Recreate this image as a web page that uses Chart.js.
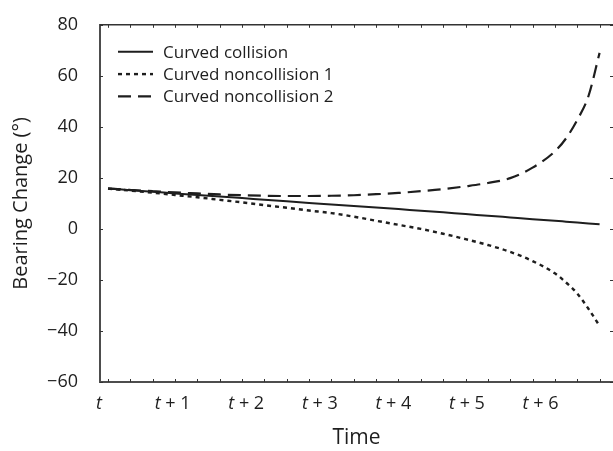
<!DOCTYPE html>
<html lang="en">
<head>
    <meta charset="UTF-8">
    <title>Bearing Change</title>
    <script src="https://cdn.jsdelivr.net/npm/chart.js"></script>
    <style>
        html, body { margin: 0; padding: 0; background: #fff; }
    </style>
</head>
<body>
    <canvas id="bearingChart" width="613" height="451"></canvas>
    <script>
        // one step = one minor tick on the time axis
        const steps = [0, 1, 2, 3, 4, 5, 6, 7, 8, 9, 10, 11, 12, 13, 14, 15, 16, 17, 18, 19, 20, 20.5, 21, 21.5, 22];
        const curvedCollision = [15.8, 15.2, 14.6, 13.9, 13.3, 12.7, 12.1, 11.4, 10.8, 10.2, 9.6, 9.0, 8.4, 7.8, 7.1, 6.5, 5.8, 5.2, 4.5, 3.8, 3.2, 2.85, 2.5, 2.15, 1.8];
        const curvedNoncollision1 = [15.8, 15.0, 14.2, 13.3, 12.4, 11.4, 10.4, 9.3, 8.3, 7.2, 6.2, 4.8, 3.2, 1.6, 0.0, -1.9, -4.0, -6.3, -9.0, -12.6, -17.4, -21.0, -25.3, -31.3, -38.0];
        const curvedNoncollision2 = [15.8, 15.3, 14.8, 14.3, 13.9, 13.5, 13.2, 13.0, 12.9, 12.9, 13.0, 13.2, 13.6, 14.1, 14.8, 15.6, 16.7, 18.0, 19.9, 24.0, 30.4, 35.5, 42.7, 52.0, 69.0];
        const seriesNames = ['Curved collision', 'Curved noncollision 1', 'Curved noncollision 2'];
        const timeLabels = ['t', 't + 1', 't + 2', 't + 3', 't + 4', 't + 5', 't + 6'];

        const FONT = '"Open Sans", "DejaVu Sans", sans-serif';
        const INK = '#1e1e1e';
        const labelStart = -0.40, labelStep = 3.293;

        function pts(vals) {
            return steps.map((s, i) => ({ x: s, y: vals[i] }));
        }

        // inward tick marks, top edge, mixed italic time labels, legend
        const framePlugin = {
            id: 'frame',
            afterDraw(chart) {
                const { ctx, chartArea: a, scales: { x, y } } = chart;
                ctx.save();
                ctx.strokeStyle = '#333';
                ctx.lineWidth = 1.5;
                ctx.beginPath();
                ctx.moveTo(a.left, a.top);
                ctx.lineTo(a.right, a.top);
                ctx.stroke();

                ctx.lineWidth = 1;
                ctx.beginPath();
                for (let k = 0; k <= 22; k++) {
                    const px = Math.round(x.getPixelForValue(k)) + 0.5;
                    ctx.moveTo(px, a.bottom); ctx.lineTo(px, a.bottom - 3);
                    ctx.moveTo(px, a.top); ctx.lineTo(px, a.top + 3);
                }
                y.ticks.forEach(t => {
                    const py = Math.round(y.getPixelForValue(t.value)) + 0.5;
                    ctx.moveTo(a.left, py); ctx.lineTo(a.left + 3, py);
                    ctx.moveTo(a.right, py); ctx.lineTo(a.right - 3, py);
                });
                ctx.stroke();

                // time labels: italic t, upright rest
                ctx.fillStyle = INK;
                ctx.textBaseline = 'alphabetic';
                ctx.textAlign = 'left';
                timeLabels.forEach((lab, i) => {
                    const cx = x.getPixelForValue(labelStart + i * labelStep);
                    const head = lab.slice(0, 1), rest = lab.slice(1);
                    ctx.font = 'italic 18px ' + FONT;
                    const w1 = ctx.measureText(head).width;
                    ctx.font = '18px ' + FONT;
                    const w2 = ctx.measureText(rest).width;
                    let sx = cx - (w1 + w2) / 2;
                    ctx.font = 'italic 18px ' + FONT;
                    ctx.fillText(head, sx, a.bottom + 27);
                    ctx.font = '18px ' + FONT;
                    ctx.fillText(rest, sx + w1, a.bottom + 27);
                });

                // legend
                ctx.textBaseline = 'middle';
                ctx.font = '17px ' + FONT;
                chart.data.datasets.forEach((ds, i) => {
                    const ly = a.top + 27 + i * 22.3;
                    ctx.save();
                    ctx.strokeStyle = ds.borderColor;
                    ctx.lineWidth = ds.borderWidth;
                    ctx.setLineDash(ds.borderDash || []);
                    ctx.beginPath();
                    ctx.moveTo(a.left + 18, ly);
                    ctx.lineTo(a.left + 53, ly);
                    ctx.stroke();
                    ctx.restore();
                    ctx.fillText(ds.label, a.left + 63, ly + 1);
                });
                ctx.restore();
            }
        };

        const ctx = document.getElementById('bearingChart').getContext('2d');
        new Chart(ctx, {
            type: 'line',
            data: {
                datasets: [
                    {
                        label: seriesNames[0],
                        data: pts(curvedCollision),
                        borderColor: INK,
                        borderWidth: 2,
                        pointRadius: 0,
                        cubicInterpolationMode: 'monotone'
                    },
                    {
                        label: seriesNames[1],
                        data: pts(curvedNoncollision1),
                        borderColor: INK,
                        borderWidth: 2.4,
                        borderDash: [4, 4],
                        pointRadius: 0,
                        cubicInterpolationMode: 'monotone'
                    },
                    {
                        label: seriesNames[2],
                        data: pts(curvedNoncollision2),
                        borderColor: INK,
                        borderWidth: 2.2,
                        borderDash: [13, 7],
                        pointRadius: 0,
                        cubicInterpolationMode: 'monotone'
                    }
                ]
            },
            options: {
                responsive: false,
                animation: false,
                devicePixelRatio: 1,
                layout: { padding: { top: 18, right: 0, bottom: 0, left: 0 } },
                plugins: {
                    legend: { display: false },
                    tooltip: { enabled: false }
                },
                scales: {
                    x: {
                        type: 'linear',
                        min: -0.358,
                        max: 22.6,
                        ticks: { display: false },
                        grid: { display: false },
                        border: { color: '#4d4d4d', width: 2 },
                        title: {
                            display: true,
                            text: 'Time',
                            color: INK,
                            font: { family: FONT, size: 21 },
                            padding: { top: 0, bottom: 0 }
                        },
                        afterFit: s => { s.height = 69; }
                    },
                    y: {
                        min: -60,
                        max: 80,
                        ticks: {
                            stepSize: 20,
                            padding: 14,
                            color: INK,
                            font: { family: FONT, size: 18 },
                            callback: v => String(v).replace('-', '\u2212')
                        },
                        grid: { display: false },
                        border: { color: '#4d4d4d', width: 2 },
                        title: {
                            display: true,
                            text: 'Bearing Change (\u00b0)',
                            color: INK,
                            font: { family: FONT, size: 20 },
                            padding: { top: 9, bottom: 0 }
                        },
                        afterFit: s => { s.width = 100; }
                    }
                }
            },
            plugins: [framePlugin]
        });
    </script>
</body>
</html>
